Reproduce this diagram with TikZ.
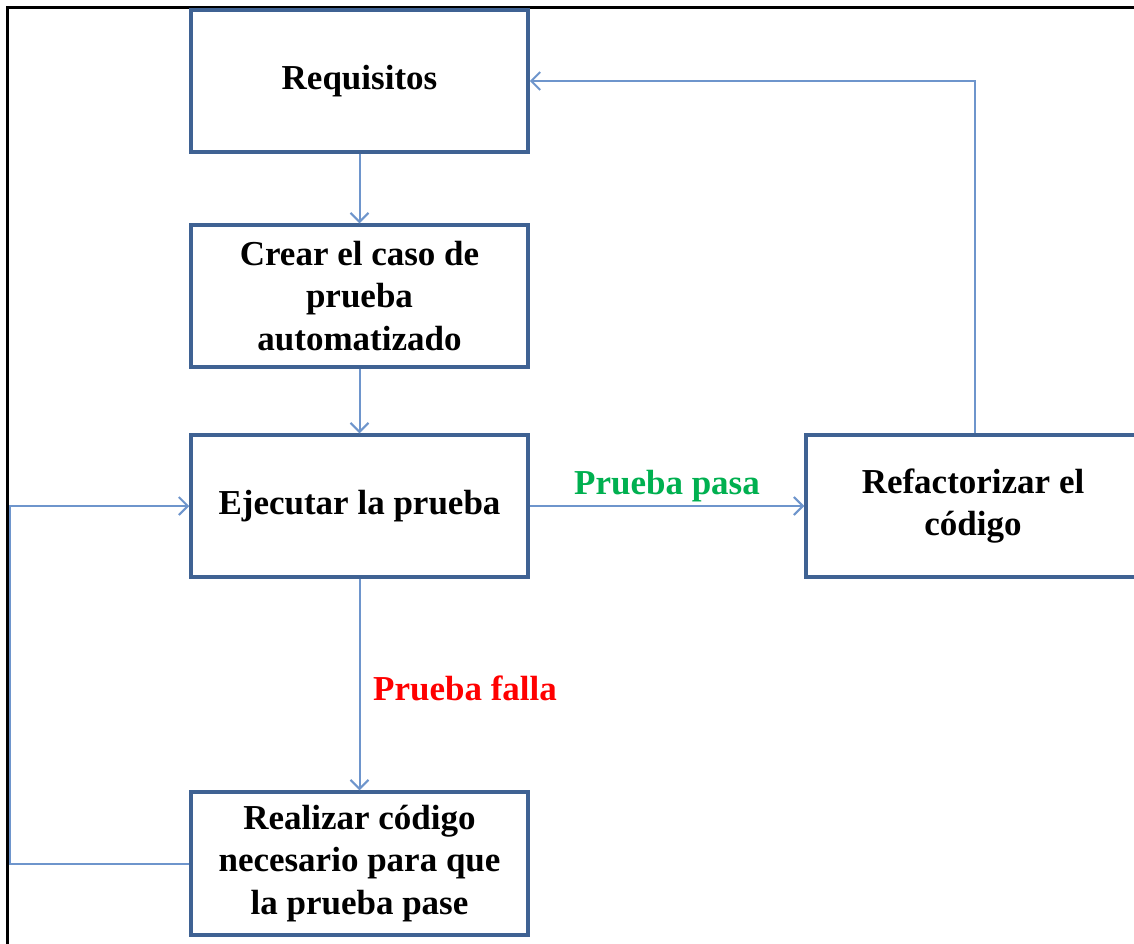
\documentclass[tikz,border=0pt]{standalone}
\usepackage{fontspec}
\setmainfont{Liberation Serif}
\usetikzlibrary{arrows.meta}
\definecolor{boxblue}{HTML}{3F6293}
\definecolor{arrblue}{HTML}{6E95CC}
\definecolor{passgreen}{HTML}{00B050}
\definecolor{failred}{HTML}{FF0000}
\begin{document}
\begin{tikzpicture}[x=1pt,y=-1pt,
  stepbox/.style={draw=boxblue,line width=3.5pt,fill=white,align=center,
    minimum width=337pt,minimum height=142pt,inner sep=0pt,
    font=\fontsize{35}{42.5}\selectfont\bfseries},
  conn/.style={draw=arrblue,line width=2pt,-{Straight Barb[length=9pt,width=18pt,line width=2pt]}},
  lbl/.style={font=\fontsize{35}{40}\selectfont\bfseries}]
\useasboundingbox (0,0) rectangle (1134,943);
\clip (0,0) rectangle (1134,943);
\fill[white] (0,0) rectangle (1134,943);
% frame
\draw[black,line width=3pt] (7,945) -- (7,7) -- (1136,7);
% boxes
\node[stepbox] (req) at (359.5,81) {Requisitos};
\node[stepbox] (crear) at (359.5,296) {Crear el caso de\\prueba\\automatizado};
\node[stepbox] (ejec) at (359.5,506) {Ejecutar la prueba};
\node[stepbox,minimum height=143pt] (real) at (359.5,863.5) {Realizar código\\necesario para que\\la prueba pase};
\node[stepbox,minimum width=334pt] (refac) at (973,506) {Refactorizar el\\código};
% coordinates
\coordinate (up) at (975,80);
\coordinate (lp) at (10,863);
% connectors
\draw[conn] (req) -- (crear);
\draw[conn] (crear) -- (ejec);
\draw[conn] (ejec) -- (real);
\draw[conn] (ejec) -- (refac);
\draw[conn] (refac.north -| up) |- (req.east);
\draw[conn] (real.west) -- (real.west -| lp) |- (ejec.west);
% labels
\node[lbl,text=passgreen] (pasa) at (667,486) {Prueba pasa};
\node[lbl,text=failred] (falla) at (465,688) {Prueba falla};
\end{tikzpicture}
\end{document}
